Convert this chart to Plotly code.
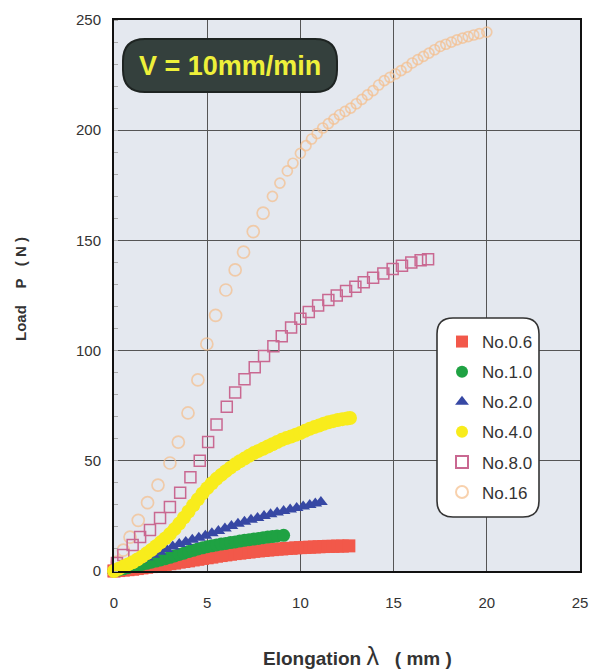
import plotly.graph_objects as go

# ---------------- data ----------------
x_no16 = [0, 0.16, 0.5, 0.86, 1.3, 1.8, 2.36, 3.0, 3.45, 3.97, 4.5, 4.98, 5.45, 6.0, 6.5,
          6.95, 7.47, 8.0, 8.5, 8.9, 9.3, 9.6, 10.0, 10.3, 10.6, 10.9, 11.2, 11.5, 11.8,
          12.1, 12.4, 12.7, 13.0, 13.3, 13.6, 13.9, 14.2, 14.5, 14.8, 15.1, 15.4, 15.7,
          16.0, 16.3, 16.6, 16.9, 17.2, 17.5, 17.8, 18.1, 18.4, 18.7, 19.0, 19.3, 19.6, 20.0]
y_no16 = [0, 4, 9.5, 15.4, 23, 31, 39, 49, 58.5, 71.7, 86.7, 103, 116, 127.5, 136.6,
          144.7, 154, 162.4, 170, 176, 181.5, 185, 189.5, 193, 196, 198.5, 201, 203, 205,
          207, 208.5, 210, 212, 214, 216, 218, 220.5, 222.5, 224, 225.5, 227, 228.5,
          230.5, 232, 233.5, 235, 236.5, 238, 239, 240, 241, 241.8, 242.5, 243.2, 243.8, 244.5]

x_no8 = [0, 0.16, 0.5, 1.0, 1.4, 1.93, 2.47, 3.0, 3.55, 4.1, 4.6, 5.05, 5.5, 6.05, 6.5,
         7.0, 7.55, 8.05, 8.55, 9.0, 9.5, 10.0, 10.45, 10.95, 11.5, 11.95, 12.45, 12.95,
         13.4, 13.9, 14.45, 14.95, 15.45, 15.95, 16.45, 16.85]
y_no8 = [0, 3.6, 7.3, 11.8, 15.4, 18.6, 24, 29, 35.5, 42.5, 50, 58.5, 66.5, 74.5, 81,
         87, 92.5, 97.5, 102, 106.5, 110.5, 114.5, 117.5, 120.5, 123, 125, 127, 129,
         131, 133, 135, 137, 138.5, 140, 141, 141.5]

x_no4 = [0, 0.25, 0.5, 0.75, 1, 1.25, 1.5, 1.75, 2, 2.25, 2.5, 2.75, 3, 3.25, 3.5, 3.75,
         4, 4.25, 4.5, 4.75, 5, 5.25, 5.5, 5.75, 6, 6.25, 6.5, 6.75, 7, 7.25, 7.5, 7.75,
         8, 8.25, 8.5, 8.75, 9, 9.25, 9.5, 9.75, 10, 10.25, 10.5, 10.75, 11, 11.25, 11.5,
         11.75, 12, 12.25, 12.5, 12.66]
y_no4 = [0, 1, 2, 3, 4, 5.2, 6.5, 8, 9.5, 11.2, 13, 14.8, 16.8, 19, 21.5, 24.2,
         27, 29.8, 32.5, 35.2, 37.6, 39.8, 41.8, 43.6, 45.3, 46.9, 48.4, 49.8, 51, 52.3, 53.5, 54.5,
         55.5, 56.5, 57.5, 58.5, 59.5, 60.3, 61, 61.8, 62.6, 63.6, 64.5, 65.3, 66, 66.8, 67.5,
         68, 68.5, 68.9, 69.2, 69.4]

x_no2 = [0, 0.35, 0.7, 1.05, 1.4, 1.75, 2.1, 2.45, 2.8, 3.15, 3.5, 3.85, 4.2, 4.55, 4.9,
         5.25, 5.6, 5.95, 6.3, 6.65, 7.0, 7.35, 7.7, 8.05, 8.4, 8.75, 9.1, 9.45, 9.8, 10.15,
         10.5, 10.8, 11.1]
y_no2 = [0, 1.3, 2.6, 3.9, 5.1, 6.2, 7.4, 8.7, 10, 11.1, 12.2, 13.2, 14.2, 15.1, 16,
         17.1, 18.2, 19.3, 20.4, 21.4, 22.3, 23.2, 24.1, 25, 25.8, 26.5, 27.2, 27.9, 28.6, 29.3,
         30, 30.6, 31.3]

x_no1 = [0, 0.25, 0.5, 0.75, 1, 1.25, 1.5, 1.75, 2, 2.25, 2.5, 2.75, 3, 3.25, 3.5, 3.75,
         4, 4.25, 4.5, 4.75, 5, 5.25, 5.5, 5.75, 6, 6.25, 6.5, 6.75, 7, 7.25, 7.5, 7.75,
         8, 8.25, 8.5, 8.75, 9.1]
y_no1 = [0, 0.5, 1, 1.5, 2, 2.5, 3, 3.5, 4, 4.5, 5, 5.6, 6.2, 6.8, 7.5, 8.1,
         8.8, 9.4, 10, 10.5, 11, 11.4, 11.8, 12.2, 12.5, 12.9, 13.2, 13.6, 13.9, 14.2, 14.5, 14.8,
         15.1, 15.4, 15.6, 15.9, 16.2]

x_no06 = [0, 0.25, 0.5, 0.75, 1, 1.25, 1.5, 1.75, 2, 2.25, 2.5, 2.75, 3, 3.25, 3.5, 3.75,
          4, 4.25, 4.5, 4.75, 5, 5.25, 5.5, 5.75, 6, 6.25, 6.5, 6.75, 7, 7.25, 7.5, 7.75,
          8, 8.25, 8.5, 8.75, 9, 9.25, 9.5, 9.75, 10, 10.25, 10.5, 10.75, 11, 11.25, 11.5,
          11.75, 12, 12.25, 12.6]
y_no06 = [0, 0.2, 0.4, 0.6, 0.8, 1.1, 1.4, 1.7, 2, 2.3, 2.6, 3, 3.3, 3.6, 4, 4.3,
          4.6, 5, 5.3, 5.7, 6, 6.3, 6.7, 7, 7.3, 7.6, 7.9, 8.1, 8.4, 8.6, 8.9, 9.1,
          9.3, 9.5, 9.7, 9.9, 10, 10.2, 10.3, 10.5, 10.6, 10.7, 10.8, 10.9, 11, 11.1, 11.2,
          11.2, 11.3, 11.3, 11.4]

x_ticks = [0, 5, 10, 15, 20, 25]
y_ticks = [0, 50, 100, 150, 200, 250]

# ---------------- layout constants (pixels) ----------------
W, H = 592, 670
ML, MR, MT, MB = 114, 12, 20, 99
PW, PH = W - ML - MR, H - MT - MB

def to_paper(px, py):
    return (px - ML) / PW, (H - MB - py) / PH

def rounded_path(x0, y0, x1, y1, r):
    pts = [
        ("M", [(x0 + r, y0)]), ("L", [(x1 - r, y0)]), ("Q", [(x1, y0), (x1, y0 + r)]),
        ("L", [(x1, y1 - r)]), ("Q", [(x1, y1), (x1 - r, y1)]),
        ("L", [(x0 + r, y1)]), ("Q", [(x0, y1), (x0, y1 - r)]),
        ("L", [(x0, y0 + r)]), ("Q", [(x0, y0), (x0 + r, y0)]),
    ]
    s = ""
    for cmd, ps in pts:
        s += cmd + " " + " ".join("%.5f,%.5f" % to_paper(px, py) for px, py in ps) + " "
    return s + "Z"

FONT = "Liberation Sans, Arial, sans-serif"

fig = go.Figure()

def add(x, y, name, symbol, color, size, rank, lw=0):
    marker = dict(symbol=symbol, size=size, color=color, line=dict(width=lw, color=color))
    fig.add_trace(go.Scatter(x=x, y=y, mode="markers", name=name, marker=marker,
                             cliponaxis=False, legendrank=rank, legendgroup=name))

# circles of No.16 look a little smaller where the curve flattens
no16_sizes = [12 if v < 170 else 10 for v in y_no16]

add(x_no16, y_no16, "No.16", "circle-open", "#f5bd8a", no16_sizes, 6, lw=1.7)
add(x_no8, y_no8, "No.8.0", "square-open", "#c96891", 11, 5, lw=1.5)
add(x_no06, y_no06, "No.0.6", "square", "#f2584a", 13, 1)
add(x_no1, y_no1, "No.1.0", "circle", "#1fa243", 13, 2)
add(x_no2, y_no2, "No.2.0", "triangle-up", "#3748a4", 12, 3)
add(x_no4, y_no4, "No.4.0", "circle", "#f8ec1c", 14, 4)

axis_common = dict(showline=True, linecolor="#111", linewidth=2, mirror=True,
                   showgrid=True, gridcolor="#555", gridwidth=1.4, zeroline=False,
                   automargin=False,
                   tickfont=dict(family=FONT, size=15, color="#333"), fixedrange=True)

fig.update_xaxes(range=[0, 25], tickvals=x_ticks, ticktext=[str(v) for v in x_ticks],
                 ticks="", ticklabelstandoff=17, **axis_common)
fig.update_yaxes(range=[0, 250], tickvals=y_ticks, ticktext=[str(v) for v in y_ticks],
                 ticks="", ticklabelstandoff=8,
                 minor=dict(ticks="inside", ticklen=4, tickcolor="#aaa", dtick=10,
                            showgrid=False),
                 **axis_common)

shapes = [
    dict(type="path", xref="paper", yref="paper", layer="above",
         path=rounded_path(437, 318, 539, 517, 16),
         fillcolor="white", line=dict(color="#333", width=1.6)),
    dict(type="path", xref="paper", yref="paper", layer="above",
         path=rounded_path(123, 39, 337, 92, 22),
         fillcolor="#34403d", line=dict(color="#1e2422", width=2)),
]

ax, ay = to_paper(230, 66)
lx, ly = to_paper(442, 324)
tx, ty = to_paper(357, 656)
yx, yy = to_paper(20, 289)
annotations = [
    dict(x=ax, y=ay, xref="paper", yref="paper", text="<b>V = 10mm/min</b>",
         showarrow=False, font=dict(family=FONT, size=27, color="#eef03a"),
         xanchor="center", yanchor="middle"),
    dict(x=tx, y=ty, xref="paper", yref="paper",
         text="<b>Elongation </b><span style='font-size:25px'>λ</span><b>   ( mm )</b>",
         showarrow=False,
         font=dict(family=FONT, size=19, color="#333"), xanchor="center", yanchor="middle"),
    dict(x=yx, y=yy, xref="paper", yref="paper",
         text="<b>Load    P   ( N )</b>", showarrow=False, textangle=-90,
         font=dict(family=FONT, size=15, color="#333"), xanchor="center", yanchor="middle"),
]

fig.update_layout(
    width=W, height=H, autosize=False,
    margin=dict(l=ML, r=MR, t=MT, b=MB, autoexpand=False),
    paper_bgcolor="white", plot_bgcolor="#e4e8ef",
    shapes=shapes, annotations=annotations,
    showlegend=True,
    legend=dict(x=lx, y=ly, xanchor="left", yanchor="top", bgcolor="rgba(0,0,0,0)",
                borderwidth=0, font=dict(family=FONT, size=17, color="#333"),
                traceorder="grouped", tracegroupgap=5, itemsizing="constant"),
)

fig.write_html("out.html", config={"responsive": False})
